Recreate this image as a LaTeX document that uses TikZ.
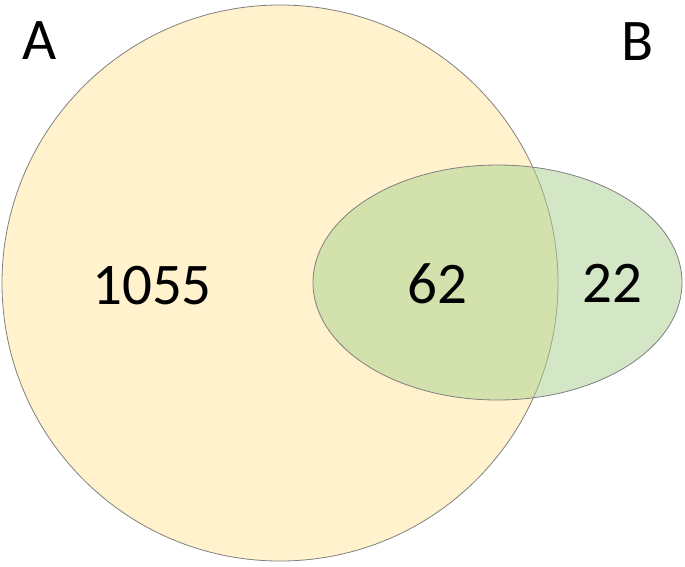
\documentclass[tikz,border=0pt]{standalone}
\usepackage{fontspec}
\setmainfont{Carlito}
\usetikzlibrary{shapes.geometric}
\definecolor{afill}{HTML}{FFF2CC}
\definecolor{bfill}{HTML}{A9D18E}
\definecolor{edgecol}{HTML}{808080}
\begin{document}
\begin{tikzpicture}[x=1pt,y=-1pt,
  setshape/.style={draw=edgecol,line width=0.8pt},
  lbl/.style={font=\fontsize{59}{70}\selectfont,inner sep=0pt,text=black}]
\useasboundingbox (0,0) rectangle (685,566);
\fill[white] (0,0) rectangle (685,566);
\node[setshape,circle,fill=afill,minimum size=556pt,inner sep=0pt] (A) at (280,283) {};
\node[setshape,ellipse,fill=bfill,fill opacity=0.5,minimum width=369pt,minimum height=235pt,inner sep=0pt] (B) at (497.5,282.5) {};
\node[lbl] (la) at (40,41) {A};
\node[lbl] (lb) at (638,42) {B};
\node[lbl] (n1) at (152,286) {1055};
\node[lbl] (n2) at (437.5,284) {62};
\node[lbl] (n3) at (612.5,283) {22};
\end{tikzpicture}
\end{document}
